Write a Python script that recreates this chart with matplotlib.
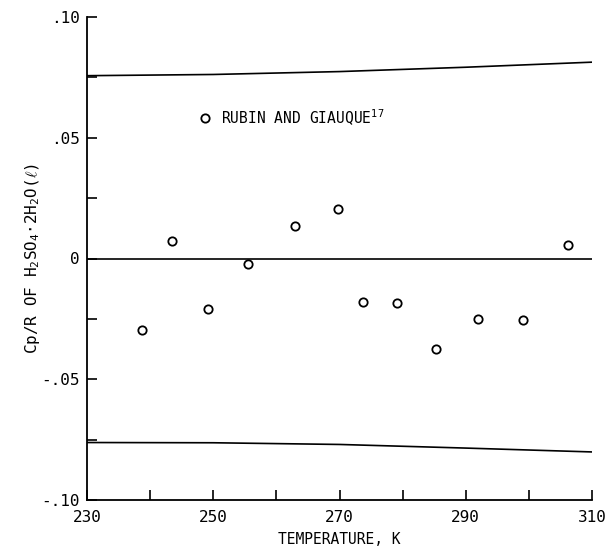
import matplotlib
matplotlib.use("Agg")
import matplotlib.pyplot as plt
from matplotlib.ticker import MultipleLocator, FixedLocator

# Data
temp_k = [238.7, 243.5, 249.1, 255.5, 262.9, 269.8, 273.7, 279.1, 285.3, 291.9, 299.0, 306.2]
cp_dev = [-0.0297, 0.0074, -0.0209, -0.0023, 0.0135, 0.0204, -0.0180, -0.0184, -0.0373, -0.0252, -0.0255, 0.0057]

band_t = [230, 250, 270, 290, 310]
band_upper = [0.0757, 0.0762, 0.0774, 0.0792, 0.0813]
band_lower = [-0.0762, -0.0763, -0.0770, -0.0785, -0.0801]

x_ticks = [230, 250, 270, 290, 310]
x_ticklabels = ["230", "250", "270", "290", "310"]
y_ticks = [-0.10, -0.05, 0.0, 0.05, 0.10]
y_ticklabels = ["-.10", "-.05", "0", ".05", ".10"]

mono = 'DejaVu Sans Mono'
plt.rcParams['font.family'] = [mono, 'DejaVu Sans']
plt.rcParams['mathtext.fontset'] = 'custom'
plt.rcParams['mathtext.rm'] = mono
plt.rcParams['mathtext.it'] = mono + ':italic'

fig = plt.figure(figsize=(6.06, 5.50), dpi=100)
ax = fig.add_axes([87/606, 50/550, (592-87)/606, (500-17)/550])

ax.plot(band_t, band_upper, color="black", lw=1.2)
ax.plot(band_t, band_lower, color="black", lw=1.2)
ax.axhline(0, color="black", lw=1.2)

ax.plot(temp_k, cp_dev, linestyle="none", marker="o", markersize=6,
        markerfacecolor="white", markeredgecolor="black", markeredgewidth=1.3)

# legend entry
ax.plot([248.7], [0.0583], linestyle="none", marker="o", markersize=6,
        markerfacecolor="white", markeredgecolor="black", markeredgewidth=1.3)
ax.text(251.2, 0.0583, "RUBIN AND GIAUQUE$^{17}$", fontsize=10.5, va="center", ha="left")

ax.set_xlim(230, 310)
ax.set_ylim(-0.10, 0.10)
ax.spines['top'].set_visible(False)
ax.spines['right'].set_visible(False)
ax.spines['left'].set_linewidth(1.3)
ax.spines['bottom'].set_linewidth(1.3)

ax.xaxis.set_major_locator(FixedLocator(x_ticks))
ax.set_xticklabels(x_ticklabels, fontsize=11.5)
ax.xaxis.set_minor_locator(MultipleLocator(10))
ax.yaxis.set_major_locator(FixedLocator(y_ticks))
ax.set_yticklabels(y_ticklabels, fontsize=11.5)
ax.yaxis.set_minor_locator(MultipleLocator(0.025))

ax.tick_params(which="both", direction="in", length=7, width=1.2)
ax.tick_params(axis="x", pad=7)
ax.tick_params(axis="y", pad=5)

ax.set_xlabel("TEMPERATURE, K", fontsize=10.5, labelpad=5)
ax.set_ylabel("Cp/R OF H$_2$SO$_4$$\\cdot$2H$_2$O($\\ell$)", fontsize=11.5, labelpad=0)

fig.savefig("out.png", dpi=100)
